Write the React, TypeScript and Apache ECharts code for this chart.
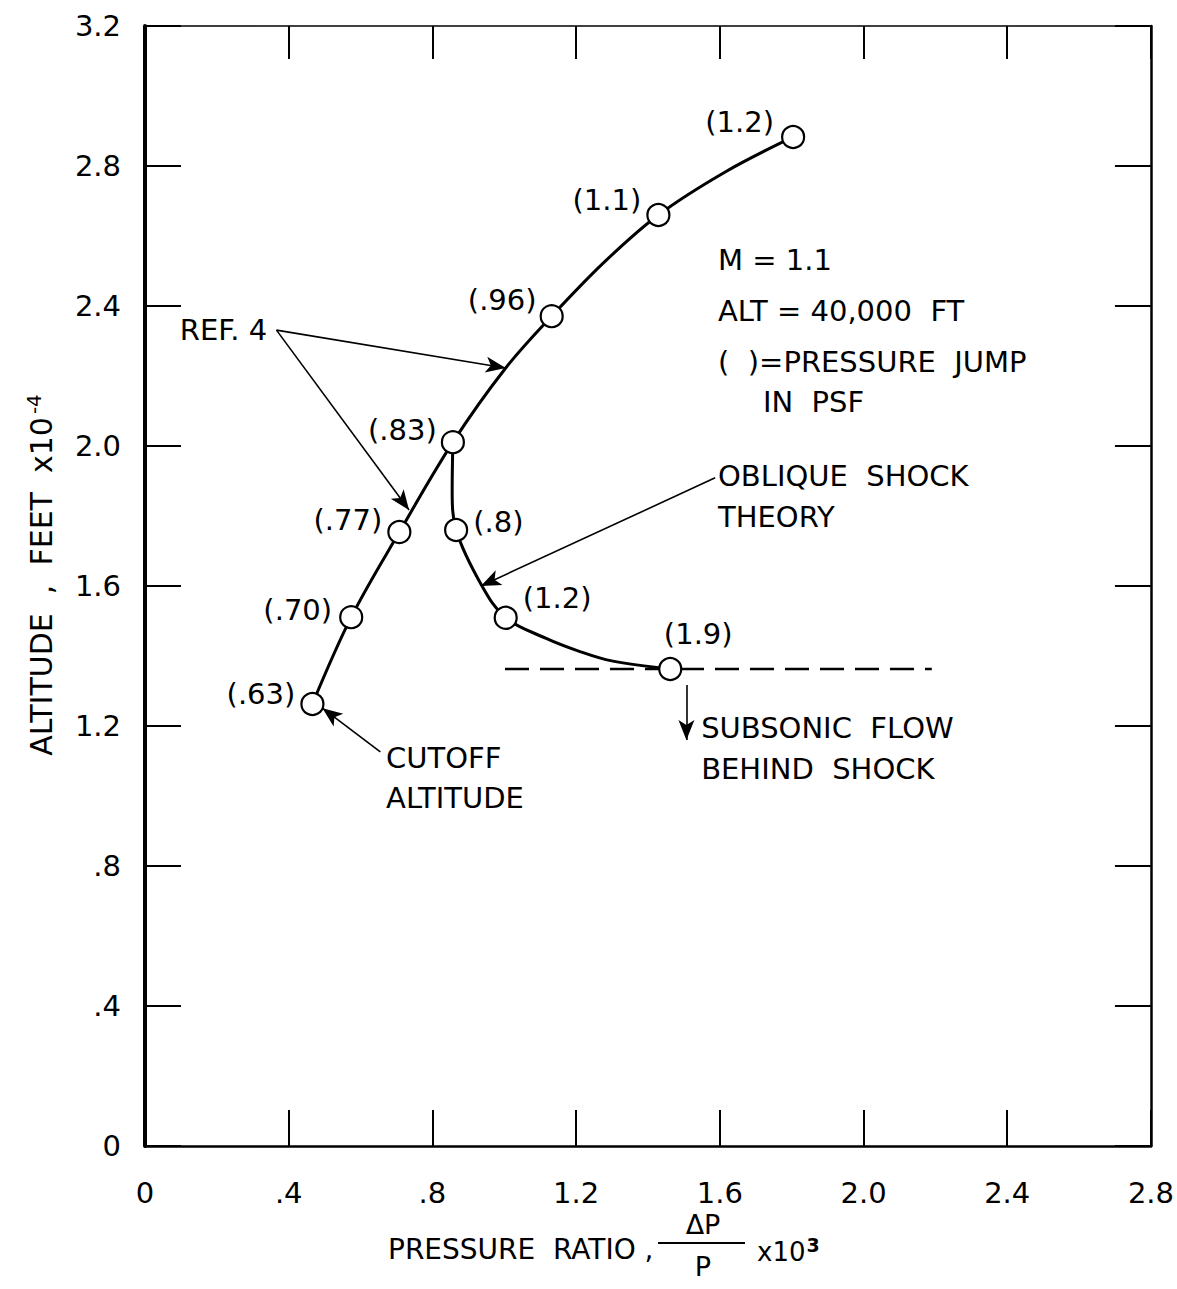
import React, { useEffect, useRef } from "react";
import * as echarts from "echarts";

// Ref. 4 test points (circles)
const refX = [0.466, 0.574, 0.708, 0.857, 1.132, 1.429, 1.804];
const refY = [1.263, 1.511, 1.754, 2.011, 2.371, 2.66, 2.883];
const refLabels = ["(.63)", "(.70)", "(.77)", "(.83)", "(.96)", "(1.1)", "(1.2)"];
// Ref. 4 curve trace (circles plus points)
const refCurveX = [0.466, 0.574, 0.708, 0.857, 1.004, 1.132, 1.279, 1.429, 1.615, 1.804];
const refCurveY = [1.263, 1.511, 1.754, 2.011, 2.223, 2.371, 2.526, 2.66, 2.783, 2.883];

// Oblique shock theory points (circles)
const oblX = [0.866, 1.004, 1.462];
const oblY = [1.76, 1.509, 1.363];
const oblLabels = ["(.8)", "(1.2)", "(1.9)"];
// Oblique shock curve trace
const oblCurveX = [0.857, 0.855, 0.866, 0.938, 1.004, 1.115, 1.207, 1.299, 1.462];
const oblCurveY = [2.011, 1.874, 1.76, 1.6, 1.509, 1.451, 1.414, 1.386, 1.363];

// Subsonic boundary (dashed)
const subsonicX = [1.002, 2.19];
const subsonicY = [1.363, 1.363];

const xTicks = [0, 0.4, 0.8, 1.2, 1.6, 2.0, 2.4, 2.8];
const yTicks = [0, 0.4, 0.8, 1.2, 1.6, 2.0, 2.4, 2.8, 3.2];

const FONT = "DejaVu Sans";

// label placement per point (style only)
const refLabelPos: any[] = [
  { position: "left", distance: 5, offset: [0, -10] },
  { position: "left", distance: 7, offset: [0, -7] },
  { position: "left", distance: 5, offset: [0, -12] },
  { position: "left", distance: 4, offset: [0, -12] },
  { position: "left", distance: 3, offset: [0, -16] },
  { position: "left", distance: 5, offset: [0, -15] },
  { position: "left", distance: 7, offset: [0, -15] },
];
const oblLabelPos: any[] = [
  { position: "right", distance: 5, offset: [0, -8] },
  { position: "right", distance: 5, offset: [0, -20] },
  { position: "top", distance: 8, offset: [28, 0] },
];

// annotation arrows in data units: [x1, y1, x2, y2]
const arrows = [
  [0.366, 2.331, 1.004, 2.223],
  [0.366, 2.331, 0.735, 1.817],
  [1.587, 1.909, 0.935, 1.6],
  [0.655, 1.126, 0.494, 1.251],
  [1.507, 1.317, 1.507, 1.16],
];

// annotation texts anchored (left, middle) in data units
const notes: [string, number, number][] = [
  ["REF. 4", 0.097, 2.331],
  ["OBLIQUE  SHOCK", 1.595, 1.914],
  ["THEORY", 1.595, 1.797],
  ["CUTOFF", 0.671, 1.109],
  ["ALTITUDE", 0.671, 0.994],
  ["SUBSONIC  FLOW", 1.548, 1.194],
  ["BEHIND  SHOCK", 1.548, 1.077],
  ["M = 1.1", 1.595, 2.531],
  ["ALT = 40,000  FT", 1.595, 2.386],
  ["(  )=PRESSURE  JUMP", 1.595, 2.24],
  ["IN  PSF", 1.72, 2.126],
];

const fmt = (v: number) => {
  const s = v.toFixed(1);
  if (v === 0) return "0";
  return v < 1 ? s.replace(/^0/, "") : s;
};

export default function App() {
  const ref = useRef<HTMLDivElement>(null);
  useEffect(() => {
    if (!ref.current) return;
    const chart = echarts.init(ref.current, undefined, { renderer: "svg" });
    const tickStyle = { color: "#000", width: 2 };
    const axisCommon = {
      type: "value" as const,
      interval: 0.4,
      splitLine: { show: false },
    };
    const ptStyle = { color: "#fff", borderColor: "#000", borderWidth: 2.2, opacity: 1 };
    const option: any = {
      animation: false,
      backgroundColor: "#fff",
      textStyle: { fontFamily: FONT, color: "#000" },
      grid: { left: 145, top: 26, width: 1009, height: 1120 },
      xAxis: [
        {
          ...axisCommon,
          min: 0,
          max: 2.8,
          position: "bottom",
          axisLine: { show: true, onZero: false, lineStyle: { color: "#000", width: 2.5 } },
          axisTick: { show: true, inside: true, length: 36, lineStyle: tickStyle },
          axisLabel: { show: true, margin: 32, fontSize: 29, color: "#000", fontFamily: FONT, formatter: fmt },
        },
        {
          ...axisCommon,
          min: 0,
          max: 2.8,
          position: "top",
          axisLine: { show: true, onZero: false, lineStyle: { color: "#000", width: 1.5 } },
          axisTick: { show: true, inside: true, length: 33, lineStyle: tickStyle },
          axisLabel: { show: false },
        },
      ],
      yAxis: [
        {
          ...axisCommon,
          min: 0,
          max: 3.2,
          position: "left",
          axisLine: { show: true, onZero: false, lineStyle: { color: "#000", width: 4 } },
          axisTick: { show: true, inside: true, length: 36, lineStyle: tickStyle },
          axisLabel: { show: true, margin: 24, fontSize: 29, color: "#000", fontFamily: FONT, formatter: fmt },
        },
        {
          ...axisCommon,
          min: 0,
          max: 3.2,
          position: "right",
          axisLine: { show: true, onZero: false, lineStyle: { color: "#000", width: 2.5 } },
          axisTick: { show: true, inside: true, length: 36, lineStyle: tickStyle },
          axisLabel: { show: false },
        },
      ],
      series: [
        {
          name: "Ref. 4 curve",
          type: "line",
          data: refCurveX.map((x, i) => [x, refCurveY[i]]),
          smooth: 0.35,
          showSymbol: false,
          symbol: "none",
          lineStyle: { color: "#000", width: 3 },
          z: 2,
        },
        {
          name: "Oblique shock curve",
          type: "line",
          data: oblCurveX.map((x, i) => [x, oblCurveY[i]]),
          smooth: 0.35,
          showSymbol: false,
          symbol: "none",
          lineStyle: { color: "#000", width: 3 },
          z: 2,
        },
        {
          name: "Subsonic",
          type: "line",
          data: subsonicX.map((x, i) => [x, subsonicY[i]]),
          showSymbol: false,
          symbol: "none",
          lineStyle: { color: "#000", width: 2.5, type: [24, 11] },
          z: 1,
          markLine: {
            silent: true,
            symbol: ["none", "arrow"],
            symbolSize: [12, 20],
            label: { show: false },
            lineStyle: { color: "#000", width: 1.6, type: "solid" },
            data: arrows.map((a) => [
              { coord: [a[0], a[1]] },
              { coord: [a[2], a[3]] },
            ]),
          },
        },
        {
          name: "Ref. 4 points",
          type: "scatter",
          symbol: "circle",
          symbolSize: 22,
          itemStyle: ptStyle,
          data: refX.map((x, i) => ({
            value: [x, refY[i]],
            label: { show: true, formatter: refLabels[i], color: "#000", ...refLabelPos[i] },
          })),
          label: { fontSize: 29, color: "#000", fontFamily: FONT },
          z: 5,
        },
        {
          name: "Oblique points",
          type: "scatter",
          symbol: "circle",
          symbolSize: 22,
          itemStyle: ptStyle,
          data: oblX.map((x, i) => ({
            value: [x, oblY[i]],
            label: { show: true, formatter: oblLabels[i], color: "#000", ...oblLabelPos[i] },
          })),
          label: { fontSize: 29, color: "#000", fontFamily: FONT },
          z: 5,
        },
      ],
    };
    chart.setOption(option);

    const graphics: any[] = notes.map(([t, x, y]) => {
      const p = chart.convertToPixel({ gridIndex: 0 } as any, [x, y]) as number[];
      return {
        type: "text",
        x: p[0],
        y: p[1],
        style: { text: t, fontSize: 29, fontFamily: FONT, fill: "#000", textAlign: "left", textVerticalAlign: "middle" },
      };
    });
    // axis titles
    graphics.push(
      {
        type: "text",
        x: 388,
        y: 1249,
        style: { text: "PRESSURE  RATIO ,", fontSize: 28, fontFamily: FONT, fill: "#000", textAlign: "left", textVerticalAlign: "middle" },
      },
      {
        type: "text",
        x: 703,
        y: 1224,
        style: { text: "ΔP", fontSize: 27, fontFamily: FONT, fill: "#000", textAlign: "center", textVerticalAlign: "middle" },
      },
      {
        type: "line",
        shape: { x1: 658, y1: 1243, x2: 745, y2: 1243 },
        style: { stroke: "#000", lineWidth: 2 },
      },
      {
        type: "text",
        x: 703,
        y: 1266,
        style: { text: "P", fontSize: 27, fontFamily: FONT, fill: "#000", textAlign: "center", textVerticalAlign: "middle" },
      },
      {
        type: "text",
        x: 757,
        y: 1250,
        style: {
          text: "{a|x10}{s|3}",
          fontFamily: FONT,
          fill: "#000",
          textAlign: "left",
          textVerticalAlign: "middle",
          rich: {
            a: { fontSize: 26, fontFamily: FONT, fill: "#000", verticalAlign: "bottom" },
            s: { fontSize: 19, fontFamily: FONT, fill: "#000", fontWeight: "bold", verticalAlign: "top", padding: [0, 0, 10, 1] },
          },
        },
      },
      {
        type: "text",
        x: 40,
        y: 575,
        rotation: Math.PI / 2,
        style: {
          text: "{a|ALTITUDE  ,  FEET  x10}{s|-4}",
          fontFamily: FONT,
          fill: "#000",
          textAlign: "center",
          textVerticalAlign: "middle",
          rich: {
            a: { fontSize: 30, fontFamily: FONT, fill: "#000", verticalAlign: "bottom" },
            s: { fontSize: 20, fontFamily: FONT, fill: "#000", verticalAlign: "top", padding: [0, 0, 12, 3] },
          },
        },
      }
    );
    chart.setOption({ graphic: graphics });
    return () => chart.dispose();
  }, []);
  return (
    <div
      ref={ref}
      style={{ position: "absolute", left: 0, top: 0, width: 1177, height: 1289 }}
    />
  );
}
